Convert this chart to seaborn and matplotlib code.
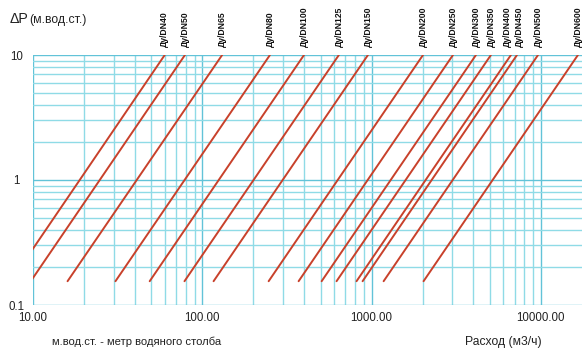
import matplotlib
matplotlib.use("Agg")
import matplotlib.pyplot as plt
import matplotlib.ticker as mticker
import seaborn as sns
import pandas as pd

# --- data ---
dn_labels = ["Ду/DN40", "Ду/DN50", "Ду/DN65", "Ду/DN80", "Ду/DN100", "Ду/DN125",
             "Ду/DN150", "Ду/DN200", "Ду/DN250", "Ду/DN300", "Ду/DN350",
             "Ду/DN400", "Ду/DN450", "Ду/DN500", "Ду/DN600"]
# flow (m3/h) at the upper end of each line (dP = 10)
q_top = [60, 79, 131, 251, 399, 641, 952, 2013, 3026, 4137, 5070, 6656, 7227, 9620, 16560]
# flow (m3/h) at the lower end of each line (dP = 0.155)
q_bottom = [7.4, 9.7, 16.0, 30.7, 48.9, 78.5, 116.6, 246.6, 370.7, 507, 621, 815, 885, 1178, 2028]
dp_top = 10
dp_bottom = 0.155

x_ticks = [10, 100, 1000, 10000]
x_tick_labels = ["10.00", "100.00", "1000.00", "10000.00"]
y_ticks = [0.1, 1, 10]
y_tick_labels = ["0.1", "1", "10"]

rows = []
for lab, qt, qb in zip(dn_labels, q_top, q_bottom):
    rows.append({"DN": lab, "Q": qb, "dP": dp_bottom})
    rows.append({"DN": lab, "Q": qt, "dP": dp_top})
df = pd.DataFrame(rows)

sns.set_theme(style="white")
plt.rcParams["font.family"] = ["Liberation Sans", "DejaVu Sans"]

W, H = 582, 349
fig = plt.figure(figsize=(W / 100, H / 100), dpi=100)
ax = fig.add_axes([33 / W, 1 - 305 / H, 1 - 33 / W, (305 - 55) / H])

ax.set_xscale("log")
ax.set_yscale("log")
ax.set_xlim(10, 17500)
ax.set_ylim(0.1, 10)

ax.grid(which="major", color="#62c3d8", lw=1.0)
ax.grid(which="minor", color="#8fdbe6", lw=1.0)
ax.xaxis.set_minor_locator(mticker.LogLocator(base=10, subs=range(2, 10)))
ax.yaxis.set_minor_locator(mticker.LogLocator(base=10, subs=range(2, 10)))
ax.xaxis.set_minor_formatter(mticker.NullFormatter())
ax.yaxis.set_minor_formatter(mticker.NullFormatter())

sns.lineplot(data=df, x="Q", y="dP", units="DN", estimator=None,
             color="#c8412b", lw=1.4, ax=ax, legend=False, zorder=3)

for sp in ax.spines.values():
    sp.set_visible(False)

ax.set_xticks(x_ticks)
ax.set_xticklabels(x_tick_labels)
ax.set_yticks(y_ticks)
ax.set_yticklabels(y_tick_labels)
ax.tick_params(axis="both", which="both", length=0, labelsize=8.3, colors="#222222")
ax.tick_params(axis="x", pad=5)
ax.tick_params(axis="y", pad=12)
for t in ax.get_yticklabels():
    t.set_horizontalalignment("center")
ax.set_xlabel("")
ax.set_ylabel("")

label_shift = {"Ду/DN400": -2.6, "Ду/DN450": 2.0}
for lab, qt in zip(dn_labels, q_top):
    ax.annotate(lab, xy=(qt, dp_top), xytext=(label_shift.get(lab, 0), 6),
                textcoords="offset points",
                rotation=90, ha="center", va="bottom", fontsize=6.2,
                fontweight="bold", color="#111111", annotation_clip=False)

fig.text(10 / W, 1 - 23 / H, "ΔP", fontsize=10.3, va="baseline", ha="left", color="#222222")
fig.text(29 / W, 1 - 23 / H, "(м.вод.ст.)", fontsize=8.8, va="baseline", ha="left", color="#222222")
fig.text(52 / W, 1 - 345 / H, "м.вод.ст. - метр водяного столба", fontsize=8.1,
         va="baseline", ha="left", color="#222222")
fig.text(465 / W, 1 - 345 / H, "Расход (м3/ч)", fontsize=8.7,
         va="baseline", ha="left", color="#222222")

fig.savefig("out.png", dpi=100, facecolor="white")
